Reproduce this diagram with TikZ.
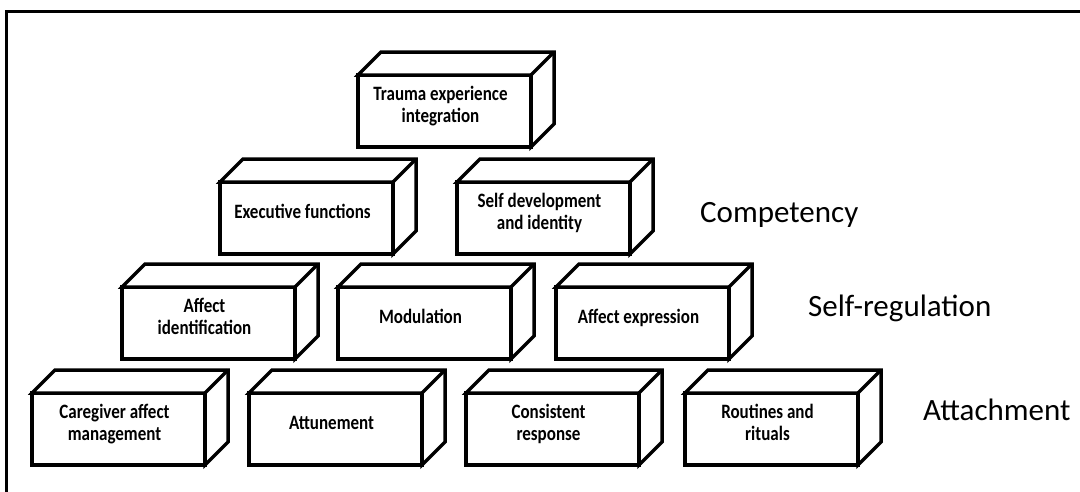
\documentclass[tikz,border=0pt]{standalone}
\usepackage{fontspec}
\usepackage{graphicx}
\setmainfont{Carlito}
% box caption: slightly tall lettering, nudged up and left in the face
\newcommand\boxcaption[1]{\hspace*{-8pt}\raisebox{4pt}[\height][\depth]{%
  \scalebox{1}[1.2]{\begin{tabular}{@{}c@{}}#1\end{tabular}}}}
\begin{document}
\begin{tikzpicture}[x=1pt,y=-1pt,
  face/.style={draw, line width=3.5pt, line join=miter, fill=white},
  front/.style={face, minimum width=173pt, minimum height=72pt, inner sep=0pt,
    outer sep=0pt, anchor=north west,
    font=\bfseries\fontsize{17}{19}\selectfont},
  level/.style={font=\fontsize{31}{36}\selectfont, anchor=base west, inner sep=0pt}]
\useasboundingbox (0,0) rectangle (1080,491);
% frame around the figure
\draw[line width=3pt] (6,600) -- (6,11) -- (1200,11);
% a 3D block: front face node plus top and right faces
\newcommand\threedbox[4]{%
  \node[front] (#1) at (#2,#3) {\boxcaption{#4}};
  \draw[face] (#1.north west) -- ++(23,-23) -- ++(173,0) -- ++(0,72)
    -- (#1.south east) -- (#1.north east) -- cycle;
  \draw[face] (#1.north east) -- ++(23,-23);
}
% top
\threedbox{trauma}{358}{75}{Trauma experience\\integration}
% competency
\threedbox{exec}{220}{182}{Executive functions}
\threedbox{selfdev}{457}{182}{Self development\\and identity}
% self-regulation
\threedbox{affid}{122}{287}{Affect\\identification}
\threedbox{modul}{338}{287}{Modulation}
\threedbox{affex}{556}{287}{Affect expression}
% attachment
\threedbox{caremgmt}{32}{393}{Caregiver affect\\management}
\threedbox{attune}{249}{393}{Attunement}
\threedbox{consist}{466}{393}{Consistent\\response}
\threedbox{routine}{685}{393}{Routines and\\rituals}
% level labels
\node[level] (lcomp) at (700,222) {Competency};
\node[level] (lself) at (808,316) {Self-regulation};
\node[level] (latt) at (923,420) {Attachment};
\end{tikzpicture}
\end{document}
